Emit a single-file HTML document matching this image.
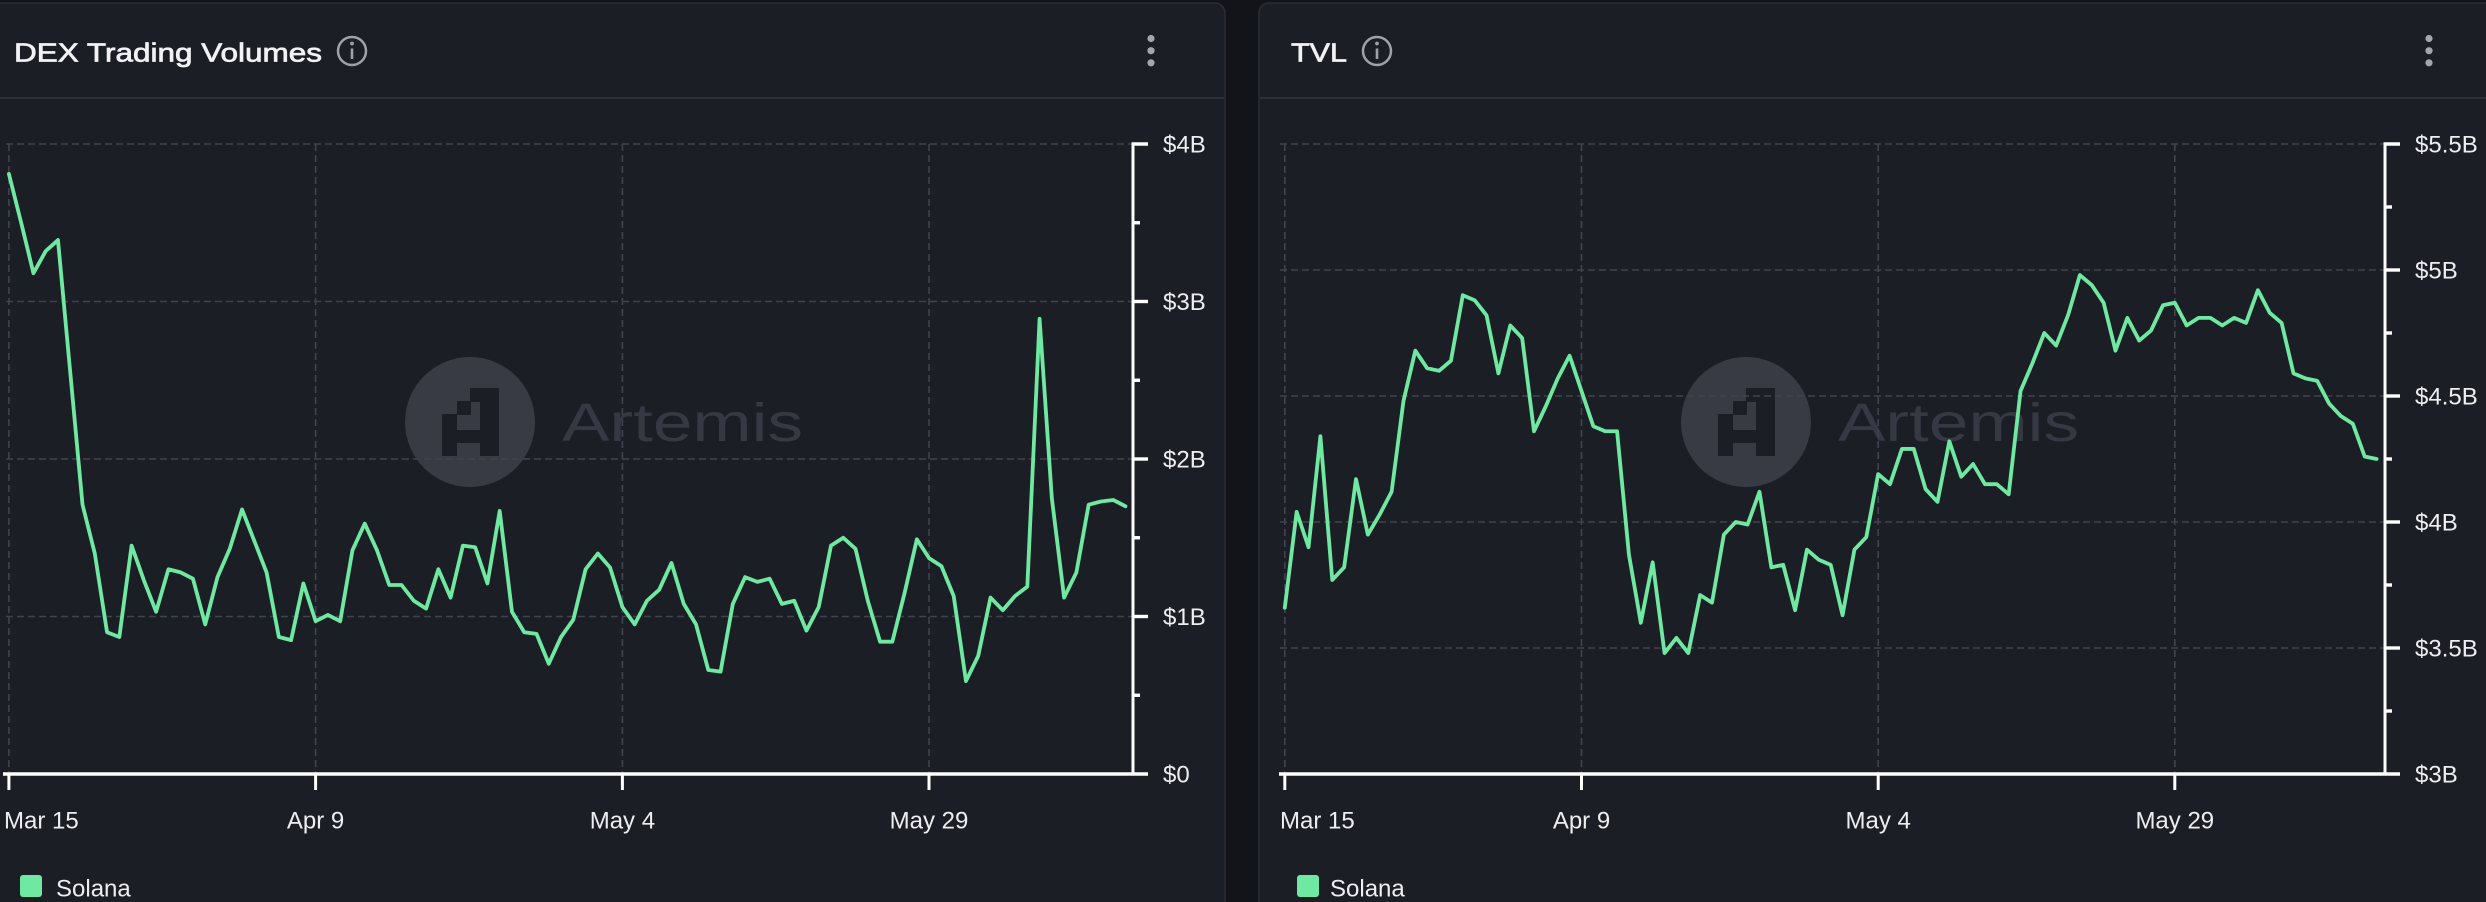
<!DOCTYPE html>
<html>
<head>
<meta charset="utf-8">
<style>
html,body{margin:0;padding:0;background:#131419;width:2486px;height:902px;overflow:hidden;}
svg{display:block;}
text{font-family:"Liberation Sans",sans-serif;}
</style>
</head>
<body>
<svg width="2486" height="902" viewBox="0 0 2486 902" xmlns="http://www.w3.org/2000/svg">
  <rect x="0" y="0" width="2486" height="902" fill="#131419"/>
  <!-- Panels -->
  <rect x="-20" y="3" width="1245" height="930" rx="10" fill="#1c1e26" stroke="#2a2c36" stroke-width="1.5"/>
  <rect x="1259" y="3" width="1250" height="930" rx="10" fill="#1c1e26" stroke="#2a2c36" stroke-width="1.5"/>
  <!-- header dividers -->
  <line x1="0" y1="98" x2="1224" y2="98" stroke="#2d2f39" stroke-width="2"/>
  <line x1="1260" y1="98" x2="2486" y2="98" stroke="#2d2f39" stroke-width="2"/>

  <!-- Titles -->
  <text x="14" y="61.5" font-size="26" fill="#f2f2f4" stroke="#f2f2f4" stroke-width="0.7" textLength="308" lengthAdjust="spacingAndGlyphs">DEX Trading Volumes</text>
  <g stroke="#a0a1a9" fill="none">
    <circle cx="352" cy="51" r="14" stroke-width="2.5"/>
    <line x1="352" y1="48.5" x2="352" y2="59" stroke-width="2.6"/>
  </g>
  <circle cx="352" cy="43.5" r="1.9" fill="#a0a1a9"/>
  <g fill="#a5a6ad">
    <circle cx="1151" cy="38.5" r="3.6"/>
    <circle cx="1151" cy="50.7" r="3.6"/>
    <circle cx="1151" cy="62.8" r="3.6"/>
  </g>

  <text x="1291" y="61.5" font-size="26" fill="#f2f2f4" stroke="#f2f2f4" stroke-width="0.7" textLength="56" lengthAdjust="spacingAndGlyphs">TVL</text>
  <g stroke="#a0a1a9" fill="none">
    <circle cx="1377" cy="51" r="14" stroke-width="2.5"/>
    <line x1="1377" y1="48.5" x2="1377" y2="59" stroke-width="2.6"/>
  </g>
  <circle cx="1377" cy="43.5" r="1.9" fill="#a0a1a9"/>
  <g fill="#a5a6ad">
    <circle cx="2429" cy="38.5" r="3.6"/>
    <circle cx="2429" cy="50.7" r="3.6"/>
    <circle cx="2429" cy="62.8" r="3.6"/>
  </g>

  <!-- Watermarks -->
  <g>
    <circle cx="470" cy="422" r="65" fill="#393b44"/>
    <g fill="#1c1e26">
      <rect x="480" y="388" width="19" height="68"/>
      <rect x="470" y="388" width="11" height="14"/>
      <rect x="457" y="401" width="14" height="14"/>
      <rect x="442" y="414" width="15" height="42"/>
      <rect x="456" y="430" width="25" height="13"/>
    </g>
    <text x="562" y="441" font-size="54" fill="#363843" textLength="241" lengthAdjust="spacingAndGlyphs">Artemis</text>
  </g>
  <g>
    <circle cx="1746" cy="422" r="65" fill="#393b44"/>
    <g fill="#1c1e26">
      <rect x="1756" y="388" width="19" height="68"/>
      <rect x="1746" y="388" width="11" height="14"/>
      <rect x="1733" y="401" width="14" height="14"/>
      <rect x="1718" y="414" width="15" height="42"/>
      <rect x="1732" y="430" width="25" height="13"/>
    </g>
    <text x="1838" y="441" font-size="54" fill="#363843" textLength="241" lengthAdjust="spacingAndGlyphs">Artemis</text>
  </g>

  <!-- Left grid -->
  <g stroke="#40424f" stroke-width="1.6" stroke-dasharray="7,4" fill="none">
    <line x1="6" y1="144" x2="1133" y2="144"/>
    <line x1="6" y1="301.5" x2="1133" y2="301.5"/>
    <line x1="6" y1="459" x2="1133" y2="459"/>
    <line x1="6" y1="616.5" x2="1133" y2="616.5"/>
    <line x1="8.9" y1="144" x2="8.9" y2="774"/>
    <line x1="315.6" y1="144" x2="315.6" y2="774"/>
    <line x1="622.4" y1="144" x2="622.4" y2="774"/>
    <line x1="929" y1="144" x2="929" y2="774"/>
  </g>
  <!-- Left axes -->
  <g stroke="#ffffff" fill="none">
    <line x1="1133" y1="142.5" x2="1133" y2="775" stroke-width="3"/>
    <line x1="3" y1="774" x2="1148" y2="774" stroke-width="3.6"/>
    <g stroke-width="3.4">
      <line x1="1131.5" y1="144" x2="1148" y2="144"/>
      <line x1="1133" y1="301.5" x2="1148" y2="301.5"/>
      <line x1="1133" y1="459" x2="1148" y2="459"/>
      <line x1="1133" y1="616.5" x2="1148" y2="616.5"/>
      <line x1="1133" y1="222.75" x2="1140" y2="222.75"/>
      <line x1="1133" y1="380.25" x2="1140" y2="380.25"/>
      <line x1="1133" y1="537.75" x2="1140" y2="537.75"/>
      <line x1="1133" y1="695.25" x2="1140" y2="695.25"/>
    </g>
    <g stroke-width="3">
      <line x1="8.9" y1="774" x2="8.9" y2="790"/>
      <line x1="315.6" y1="774" x2="315.6" y2="790"/>
      <line x1="622.4" y1="774" x2="622.4" y2="790"/>
      <line x1="929" y1="774" x2="929" y2="790"/>
    </g>
  </g>
  <g font-size="24" fill="#eeeef0">
    <text x="1163" y="152.5">$4B</text>
    <text x="1163" y="310">$3B</text>
    <text x="1163" y="467.5">$2B</text>
    <text x="1163" y="625">$1B</text>
    <text x="1163" y="782.5">$0</text>
    <text x="4" y="828.5">Mar 15</text>
    <text x="315.6" y="828.5" text-anchor="middle">Apr 9</text>
    <text x="622.4" y="828.5" text-anchor="middle">May 4</text>
    <text x="929" y="828.5" text-anchor="middle">May 29</text>
  </g>
  <polyline fill="none" stroke="#6fe8a1" stroke-width="3.8" stroke-linejoin="round" stroke-linecap="round" vector-effect="non-scaling-stroke"
    transform="matrix(12.27,0,0,-157.5,8.9,774)"
    points="0,3.81 1,3.50 2,3.18 3,3.32 4,3.39 5,2.55 6,1.71 7,1.40 8,0.90 9,0.87 10,1.45 11,1.23 12,1.03 13,1.30 14,1.28 15,1.24 16,0.95 17,1.25 18,1.43 19,1.68 20,1.48 21,1.28 22,0.87 23,0.85 24,1.21 25,0.97 26,1.01 27,0.97 28,1.42 29,1.59 30,1.42 31,1.20 32,1.20 33,1.10 34,1.05 35,1.30 36,1.12 37,1.45 38,1.44 39,1.21 40,1.67 41,1.03 42,0.90 43,0.89 44,0.70 45,0.87 46,0.98 47,1.30 48,1.40 49,1.31 50,1.06 51,0.95 52,1.10 53,1.17 54,1.34 55,1.08 56,0.95 57,0.66 58,0.65 59,1.08 60,1.25 61,1.22 62,1.24 63,1.08 64,1.10 65,0.91 66,1.06 67,1.45 68,1.50 69,1.43 70,1.10 71,0.84 72,0.84 73,1.15 74,1.49 75,1.37 76,1.32 77,1.13 78,0.59 79,0.75 80,1.12 81,1.04 82,1.13 83,1.19 84,2.89 85,1.75 86,1.12 87,1.28 88,1.71 89,1.73 90,1.74 91,1.70"/>
  <!-- Left legend -->
  <rect x="20" y="875" width="22" height="22" rx="3" fill="#6fe8a1"/>
  <text x="56" y="896.5" font-size="24" fill="#eeeef0">Solana</text>

  <!-- Right grid -->
  <g stroke="#40424f" stroke-width="1.6" stroke-dasharray="7,4" fill="none">
    <line x1="1280" y1="144" x2="2385" y2="144"/>
    <line x1="1280" y1="270" x2="2385" y2="270"/>
    <line x1="1280" y1="396" x2="2385" y2="396"/>
    <line x1="1280" y1="522" x2="2385" y2="522"/>
    <line x1="1280" y1="648" x2="2385" y2="648"/>
    <line x1="1284.8" y1="144" x2="1284.8" y2="774"/>
    <line x1="1581.5" y1="144" x2="1581.5" y2="774"/>
    <line x1="1878.2" y1="144" x2="1878.2" y2="774"/>
    <line x1="2174.8" y1="144" x2="2174.8" y2="774"/>
  </g>
  <g stroke="#ffffff" fill="none">
    <line x1="2385" y1="142.5" x2="2385" y2="775" stroke-width="3"/>
    <line x1="1279" y1="774" x2="2400" y2="774" stroke-width="3.6"/>
    <g stroke-width="3.4">
      <line x1="2383.5" y1="144" x2="2400" y2="144"/>
      <line x1="2385" y1="270" x2="2400" y2="270"/>
      <line x1="2385" y1="396" x2="2400" y2="396"/>
      <line x1="2385" y1="522" x2="2400" y2="522"/>
      <line x1="2385" y1="648" x2="2400" y2="648"/>
      <line x1="2385" y1="207" x2="2392" y2="207"/>
      <line x1="2385" y1="333" x2="2392" y2="333"/>
      <line x1="2385" y1="459" x2="2392" y2="459"/>
      <line x1="2385" y1="585" x2="2392" y2="585"/>
      <line x1="2385" y1="711" x2="2392" y2="711"/>
    </g>
    <g stroke-width="3">
      <line x1="1284.8" y1="774" x2="1284.8" y2="790"/>
      <line x1="1581.5" y1="774" x2="1581.5" y2="790"/>
      <line x1="1878.2" y1="774" x2="1878.2" y2="790"/>
      <line x1="2174.8" y1="774" x2="2174.8" y2="790"/>
    </g>
  </g>
  <g font-size="24" fill="#eeeef0">
    <text x="2415" y="152.5">$5.5B</text>
    <text x="2415" y="278.5">$5B</text>
    <text x="2415" y="404.5">$4.5B</text>
    <text x="2415" y="530.5">$4B</text>
    <text x="2415" y="656.5">$3.5B</text>
    <text x="2415" y="782.5">$3B</text>
    <text x="1280" y="828.5">Mar 15</text>
    <text x="1581.5" y="828.5" text-anchor="middle">Apr 9</text>
    <text x="1878.2" y="828.5" text-anchor="middle">May 4</text>
    <text x="2174.8" y="828.5" text-anchor="middle">May 29</text>
  </g>
  <polyline fill="none" stroke="#6fe8a1" stroke-width="3.8" stroke-linejoin="round" stroke-linecap="round" vector-effect="non-scaling-stroke"
    transform="matrix(11.867,0,0,-252,1284.8,1530)"
    points="0,3.66 1,4.04 2,3.90 3,4.34 4,3.77 5,3.82 6,4.17 7,3.95 8,4.03 9,4.12 10,4.48 11,4.68 12,4.61 13,4.60 14,4.64 15,4.90 16,4.88 17,4.82 18,4.59 19,4.78 20,4.73 21,4.36 22,4.46 23,4.57 24,4.66 25,4.52 26,4.38 27,4.36 28,4.36 29,3.87 30,3.60 31,3.84 32,3.48 33,3.54 34,3.48 35,3.71 36,3.68 37,3.95 38,4.00 39,3.99 40,4.12 41,3.82 42,3.83 43,3.65 44,3.89 45,3.85 46,3.83 47,3.63 48,3.89 49,3.94 50,4.19 51,4.15 52,4.29 53,4.29 54,4.13 55,4.08 56,4.32 57,4.18 58,4.23 59,4.15 60,4.15 61,4.11 62,4.52 63,4.63 64,4.75 65,4.70 66,4.82 67,4.98 68,4.94 69,4.87 70,4.68 71,4.81 72,4.72 73,4.76 74,4.86 75,4.87 76,4.78 77,4.81 78,4.81 79,4.78 80,4.81 81,4.79 82,4.92 83,4.83 84,4.79 85,4.59 86,4.57 87,4.56 88,4.47 89,4.42 90,4.39 91,4.26 92,4.25"/>
  <rect x="1297" y="875" width="22" height="22" rx="3" fill="#6fe8a1"/>
  <text x="1330" y="896.5" font-size="24" fill="#eeeef0">Solana</text>
</svg>
</body>
</html>
